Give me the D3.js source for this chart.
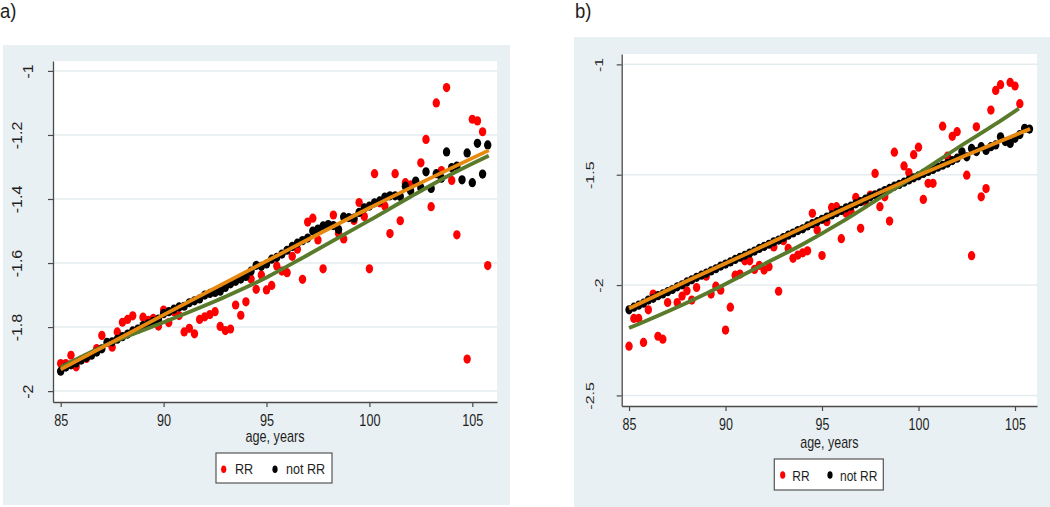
<!DOCTYPE html>
<html><head><meta charset="utf-8">
<script src="https://cdn.jsdelivr.net/npm/d3@7"></script>
<style>
body{margin:0;background:#fff;}
svg{display:block;font-family:"Liberation Sans",Arial,sans-serif;}
</style>
</head><body>
<svg id="c" width="1050" height="507"></svg>
<script>
// ---------- tick labels / legend ----------
const xTicks = [85, 90, 95, 100, 105];
const xTickLabels = ["85", "90", "95", "100", "105"];
const yTicksA = [-2, -1.8, -1.6, -1.4, -1.2, -1];
const yTickLabelsA = ["-2", "-1.8", "-1.6", "-1.4", "-1.2", "-1"];
const yTicksB = [-2.5, -2, -1.5, -1];
const yTickLabelsB = ["-2.5", "-2", "-1.5", "-1"];
const legendLabels = ["RR", "not RR"];
const xTitle = "age, years";
const panelTags = ["a)", "b)"];

// ---------- panel a data ----------
const redAgeA = [85.0,85.25,85.5,85.75,86.25,86.75,87.0,87.5,87.75,88.0,88.25,88.5,88.75,89.0,89.25,89.5,89.75,90.0,90.25,90.5,90.75,91.0,91.25,91.5,91.75,92.0,92.25,92.5,92.75,93.0,93.25,93.5,93.75,94.0,94.25,94.5,94.75,95.0,95.25,95.5,95.75,96.0,96.25,96.5,96.75,97.0,97.25,97.5,97.75,98.25,98.5,98.75,99.25,99.5,99.75,100.0,100.25,100.5,100.75,101.0,101.25,101.5,101.75,102.0,102.5,102.75,103.0,103.25,103.5,103.75,104.0,104.25,104.75,105.0,105.25,105.5,105.75];
const redValA = [-1.914,-1.914,-1.888,-1.924,-1.898,-1.867,-1.826,-1.863,-1.815,-1.785,-1.776,-1.765,-1.807,-1.769,-1.779,-1.773,-1.797,-1.747,-1.786,-1.752,-1.764,-1.815,-1.804,-1.821,-1.776,-1.768,-1.761,-1.752,-1.798,-1.811,-1.806,-1.731,-1.763,-1.721,-1.650,-1.682,-1.637,-1.684,-1.670,-1.609,-1.625,-1.630,-1.579,-1.557,-1.651,-1.472,-1.460,-1.528,-1.618,-1.450,-1.507,-1.525,-1.467,-1.411,-1.455,-1.618,-1.321,-1.412,-1.422,-1.508,-1.321,-1.468,-1.349,-1.356,-1.287,-1.214,-1.424,-1.100,-1.311,-1.052,-1.342,-1.512,-1.900,-1.151,-1.156,-1.190,-1.608];

const blackAgeA = [85.0,85.25,85.5,85.75,86.0,86.25,86.5,86.75,87.0,87.25,87.5,87.75,88.0,88.25,88.5,88.75,89.0,89.25,89.5,89.75,90.0,90.25,90.5,90.75,91.0,91.25,91.5,91.75,92.0,92.25,92.5,92.75,93.0,93.25,93.5,93.75,94.0,94.25,94.5,94.75,95.0,95.25,95.5,95.75,96.0,96.25,96.5,96.75,97.0,97.25,97.5,97.75,98.0,98.25,98.5,98.75,99.0,99.25,99.5,99.75,100.0,100.25,100.5,100.75,101.0,101.25,101.5,101.75,102.0,102.25,102.5,102.75,103.0,103.25,103.5,103.75,104.0,104.25,104.5,104.75,105.0,105.25,105.5,105.75];
const blackValA = [-1.938,-1.925,-1.918,-1.912,-1.903,-1.895,-1.888,-1.878,-1.868,-1.848,-1.846,-1.838,-1.830,-1.822,-1.812,-1.806,-1.795,-1.790,-1.782,-1.775,-1.758,-1.752,-1.744,-1.737,-1.735,-1.724,-1.718,-1.712,-1.700,-1.695,-1.692,-1.688,-1.676,-1.665,-1.657,-1.650,-1.642,-1.625,-1.607,-1.610,-1.603,-1.588,-1.582,-1.572,-1.560,-1.548,-1.538,-1.530,-1.522,-1.500,-1.494,-1.484,-1.480,-1.483,-1.495,-1.456,-1.458,-1.460,-1.442,-1.428,-1.422,-1.412,-1.406,-1.394,-1.390,-1.390,-1.392,-1.360,-1.374,-1.344,-1.365,-1.315,-1.367,-1.321,-1.335,-1.253,-1.302,-1.297,-1.340,-1.256,-1.349,-1.226,-1.322,-1.231];

const orangeAgeA = [85, 90, 95, 100, 105.8];
const orangeValA = [-1.932, -1.762, -1.594, -1.428, -1.248];
const greenAgeA = [85, 87, 90, 93, 95, 97, 100, 102, 104, 105.8];
const greenValA = [-1.925, -1.862, -1.785, -1.705, -1.645, -1.575, -1.467, -1.393, -1.322, -1.265];

// ---------- panel b data ----------
const redAgeB = [85.0,85.25,85.5,85.75,86.0,86.25,86.5,86.75,87.0,87.5,87.75,88.0,88.25,88.5,89.0,89.25,89.5,89.75,90.0,90.25,90.5,90.75,91.0,91.25,91.5,91.75,92.0,92.25,92.5,92.75,93.0,93.25,93.5,93.75,94.0,94.25,94.5,94.75,95.0,95.25,95.5,95.75,96.0,96.25,96.5,96.75,97.0,97.25,97.5,97.75,98.0,98.25,98.5,98.75,99.25,99.5,99.75,100.0,100.25,100.5,100.75,101.25,101.5,101.75,102.0,102.5,102.75,103.0,103.25,103.5,103.75,104.0,104.25,104.75,105.0,105.25];
const redValB = [-2.277,-2.151,-2.151,-2.260,-2.112,-2.041,-2.232,-2.245,-2.079,-2.079,-2.050,-2.026,-2.068,-2.011,-1.960,-2.041,-2.005,-2.023,-2.204,-2.100,-1.955,-1.950,-1.890,-1.890,-1.929,-1.911,-1.932,-1.917,-1.827,-2.028,-1.799,-1.834,-1.879,-1.864,-1.854,-1.845,-1.675,-1.751,-1.866,-1.713,-1.648,-1.645,-1.790,-1.675,-1.665,-1.603,-1.743,-1.623,-1.592,-1.494,-1.645,-1.600,-1.710,-1.398,-1.460,-1.490,-1.409,-1.375,-1.612,-1.539,-1.539,-1.280,-1.416,-1.326,-1.305,-1.502,-1.867,-1.283,-1.600,-1.563,-1.207,-1.118,-1.092,-1.082,-1.098,-1.178];

const blackAgeB = [85.0,85.25,85.5,85.75,86.0,86.25,86.5,86.75,87.0,87.25,87.5,87.75,88.0,88.25,88.5,88.75,89.0,89.25,89.5,89.75,90.0,90.25,90.5,90.75,91.0,91.25,91.5,91.75,92.0,92.25,92.5,92.75,93.0,93.25,93.5,93.75,94.0,94.25,94.5,94.75,95.0,95.25,95.5,95.75,96.0,96.25,96.5,96.75,97.0,97.25,97.5,97.75,98.0,98.25,98.5,98.75,99.0,99.25,99.5,99.75,100.0,100.25,100.5,100.75,101.0,101.25,101.5,101.75,102.0,102.25,102.5,102.75,103.0,103.25,103.5,103.75,104.0,104.25,104.5,104.75,105.0,105.25,105.5,105.75];
const blackValB = [-2.112,-2.100,-2.091,-2.082,-2.068,-2.060,-2.048,-2.040,-2.030,-2.020,-2.008,-1.999,-1.986,-1.976,-1.965,-1.955,-1.946,-1.936,-1.926,-1.914,-1.905,-1.895,-1.884,-1.874,-1.865,-1.855,-1.846,-1.834,-1.825,-1.815,-1.804,-1.796,-1.785,-1.774,-1.764,-1.753,-1.745,-1.732,-1.722,-1.713,-1.702,-1.692,-1.682,-1.672,-1.662,-1.650,-1.642,-1.632,-1.622,-1.611,-1.600,-1.591,-1.582,-1.572,-1.562,-1.552,-1.544,-1.534,-1.524,-1.514,-1.505,-1.494,-1.485,-1.476,-1.466,-1.457,-1.448,-1.436,-1.425,-1.396,-1.419,-1.381,-1.395,-1.373,-1.390,-1.373,-1.365,-1.328,-1.350,-1.358,-1.335,-1.318,-1.290,-1.293];

const orangeAgeB = [85, 88, 91, 94, 97, 100, 103, 105.78];
const orangeValB = [-2.106, -1.982, -1.862, -1.740, -1.620, -1.503, -1.393, -1.292];
const greenAgeB = [85, 88, 90, 92, 94, 96, 98, 100, 102, 104, 105.2];
const greenValB = [-2.195, -2.080, -1.995, -1.905, -1.815, -1.715, -1.605, -1.495, -1.380, -1.270, -1.200];

// ---------- styles ----------
const BG = "#e9f0f3", GRID = "#e4ecef", AXIS = "#4a4a4a", TXT = "#1e1e1e";
const RED = "#ff0000", BLACK = "#000000", ORANGE = "#e8890f", GREEN = "#5a7b2b";

const svg = d3.select("#c");

function zip(a, b) { return a.map((v, i) => [v, b[i]]); }

function panel(o) {
  const g = svg.append("g");
  g.append("rect").attr("x", o.bg[0]).attr("y", o.bg[1]).attr("width", o.bg[2]).attr("height", o.bg[3]).attr("fill", BG);
  g.append("rect").attr("x", o.L).attr("y", o.T).attr("width", o.R - o.L).attr("height", o.B - o.T).attr("fill", "#fff");

  const x = d3.scaleLinear().domain(o.xDom).range([o.L, o.R]);
  const y = d3.scaleLinear().domain(o.yDom).range([o.B, o.T]);

  g.selectAll("line.grid").data(o.yTicks).join("line").attr("class", "grid")
    .attr("x1", o.L + 1).attr("x2", o.R).attr("y1", d => y(d)).attr("y2", d => y(d))
    .attr("stroke", GRID).attr("stroke-width", 1.5);

  // x axis
  const xa = g.append("g").attr("transform", `translate(0,${o.B})`)
    .call(d3.axisBottom(x).tickValues(xTicks).tickSize(5).tickSizeOuter(0).tickFormat((d, i) => xTickLabels[i]));
  xa.select(".domain").attr("stroke", AXIS).attr("stroke-width", 1.3);
  xa.selectAll(".tick line").attr("stroke", AXIS).attr("stroke-width", 1.2);
  xa.selectAll(".tick text").attr("fill", TXT).attr("font-size", 16).attr("y", null).attr("dy", null)
    .attr("transform", `translate(0,${o.xLabBase - o.B}) scale(${o.sx},1)`).attr("font-family", "Liberation Sans, Arial, sans-serif");

  // y axis (labels rotated; whole-number labels sit closer to the axis)
  const ya = g.append("g").attr("transform", `translate(${o.L},0)`)
    .call(d3.axisLeft(y).tickValues(o.yTicks).tickSize(5).tickSizeOuter(0).tickFormat((d, i) => o.yLabels[i]));
  ya.select(".domain").attr("stroke", AXIS).attr("stroke-width", 1.3);
  ya.selectAll(".tick line").attr("stroke", AXIS).attr("stroke-width", 1.2);
  ya.selectAll(".tick text").attr("fill", TXT).attr("font-size", 16).attr("x", null).attr("dy", null)
    .attr("text-anchor", "middle").attr("font-family", "Liberation Sans, Arial, sans-serif")
    .attr("transform", (d, i) => {
      const base = o.yLabels[i].indexOf(".") >= 0 ? o.yLabBaseDec : o.yLabBaseInt;
      return `translate(${base - o.L},0) scale(${o.syl},1) rotate(-90)`;
    });

  // axis title
  g.append("text").attr("transform", `translate(${(o.L + o.R) / 2},${o.titleBase}) scale(${o.sx},1)`)
    .attr("text-anchor", "middle").attr("font-size", 16).attr("fill", TXT).text(xTitle);

  // points
  const rx = 3.7, ry = 4.6;
  g.append("g").selectAll("ellipse").data(zip(o.redAge, o.redVal)).join("ellipse")
    .attr("cx", d => x(d[0])).attr("cy", d => y(d[1])).attr("rx", rx).attr("ry", ry).attr("fill", RED);
  g.append("g").selectAll("ellipse").data(zip(o.blackAge, o.blackVal)).join("ellipse")
    .attr("cx", d => x(d[0])).attr("cy", d => y(d[1])).attr("rx", rx).attr("ry", ry).attr("fill", BLACK);

  const line = d3.line().x(d => x(d[0])).y(d => y(d[1])).curve(d3.curveMonotoneX);
  g.append("path").attr("d", line(zip(o.greenAge, o.greenVal))).attr("fill", "none")
    .attr("stroke", GREEN).attr("stroke-width", 3.8);
  g.append("path").attr("d", line(zip(o.orangeAge, o.orangeVal))).attr("fill", "none")
    .attr("stroke", ORANGE).attr("stroke-width", 3.8);

  // legend
  const lg = o.leg;
  g.append("rect").attr("x", lg.x).attr("y", lg.y).attr("width", lg.w).attr("height", lg.h)
    .attr("fill", "#fff").attr("stroke", "#555").attr("stroke-width", 1.2);
  g.append("ellipse").attr("cx", lg.m1).attr("cy", lg.my).attr("rx", 2.6).attr("ry", 3.8).attr("fill", RED);
  g.append("ellipse").attr("cx", lg.m2).attr("cy", lg.my).attr("rx", 2.6).attr("ry", 3.8).attr("fill", BLACK);
  g.append("text").attr("transform", `translate(${lg.t1},${lg.base}) scale(${lg.sx},1)`).attr("font-size", 15).attr("fill", TXT).text(legendLabels[0]);
  g.append("text").attr("transform", `translate(${lg.t2},${lg.base}) scale(${lg.sx},1)`).attr("font-size", 15).attr("fill", TXT).text(legendLabels[1]);

  // panel tag
  g.append("text").attr("transform", `translate(${o.tag[0]},${o.tag[1]}) scale(0.88,1)`).attr("font-size", 21).attr("fill", TXT).text(o.tagText);
}

panel({
  bg: [3, 45, 507, 460], L: 53, R: 497, T: 61, B: 402,
  xDom: [84.626, 106.2], yDom: [-2.034, -0.969],
  yTicks: yTicksA, yLabels: yTickLabelsA,
  xLabBase: 425.5, yLabBaseInt: 33, yLabBaseDec: 21.5, syl: 0.95, titleBase: 442, sx: 0.79,
  redAge: redAgeA, redVal: redValA, blackAge: blackAgeA, blackVal: blackValA,
  orangeAge: orangeAgeA, orangeVal: orangeValA, greenAge: greenAgeA, greenVal: greenValA,
  leg: { x: 216, y: 453, w: 116, h: 30, m1: 223.7, m2: 275, my: 469.3, t1: 235, t2: 286, base: 474, sx: 0.84 },
  tag: [0, 18], tagText: panelTags[0]
});

panel({
  bg: [574, 37, 476, 470], L: 621.7, R: 1037, T: 54, B: 406,
  xDom: [84.62, 106.14], yDom: [-2.548, -0.953],
  yTicks: yTicksB, yLabels: yTickLabelsB,
  xLabBase: 430, yLabBaseInt: 603, yLabBaseDec: 594, syl: 0.72, titleBase: 448, sx: 0.78,
  redAge: redAgeB, redVal: redValB, blackAge: blackAgeB, blackVal: blackValB,
  orangeAge: orangeAgeB, orangeVal: orangeValB, greenAge: greenAgeB, greenVal: greenValB,
  leg: { x: 774.3, y: 459, w: 109, h: 31, m1: 782.7, m2: 830, my: 475, t1: 792.3, t2: 840, base: 480.7, sx: 0.8 },
  tag: [575, 18], tagText: panelTags[1]
});
</script>
</body></html>
